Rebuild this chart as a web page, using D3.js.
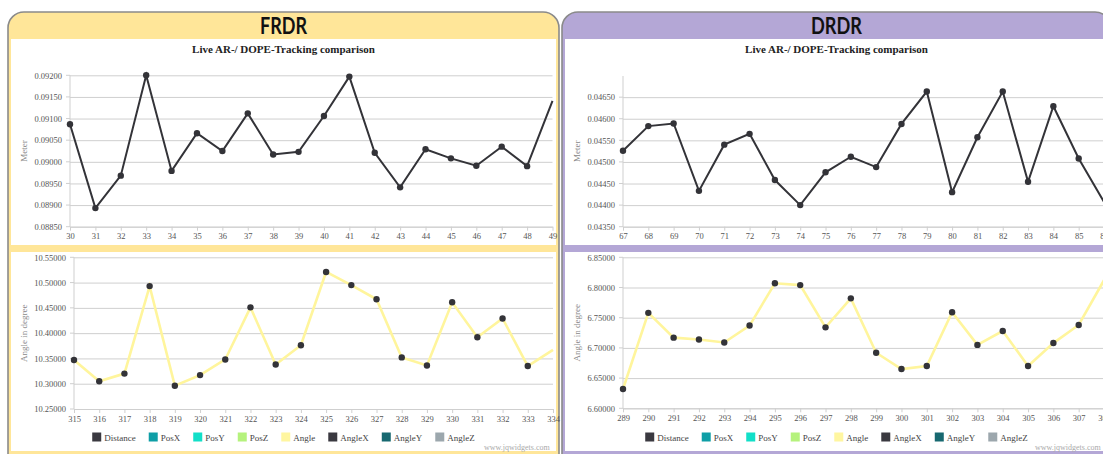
<!DOCTYPE html>
<html><head><meta charset="utf-8">
<script src="https://cdn.jsdelivr.net/npm/d3@7"></script>
<style>body{margin:0;background:#fff;overflow:hidden} svg{display:block}</style>
</head><body><svg id="c" width="1103" height="454"></svg>
<script>
// ---------- DATA ----------
const frdrDistanceCategories = [30,31,32,33,34,35,36,37,38,39,40,41,42,43,44,45,46,47,48,49];
const frdrDistanceValues = [0.09087,0.08893,0.08968,0.09200,0.08979,0.09066,0.09025,0.09112,0.09017,0.09023,0.09106,0.09197,0.09021,0.08941,0.09029,0.09008,0.08991,0.09035,0.08990,0.09141];
const frdrDistanceTicks = [0.0885,0.0890,0.0895,0.0900,0.0905,0.0910,0.0915,0.0920];

const frdrAngleCategories = [315,316,317,318,319,320,321,322,323,324,325,326,327,328,329,330,331,332,333,334];
const frdrAngleValues = [10.347,10.305,10.320,10.493,10.296,10.317,10.348,10.451,10.338,10.376,10.521,10.495,10.467,10.352,10.336,10.461,10.392,10.429,10.335,10.367];
const frdrAngleTicks = [10.25,10.30,10.35,10.40,10.45,10.50,10.55];

const drdrDistanceCategories = [67,68,69,70,71,72,73,74,75,76,77,78,79,80,81,82,83,84,85,86];
const drdrDistanceValues = [0.04526,0.04583,0.04589,0.04433,0.04540,0.04565,0.04458,0.04400,0.04476,0.04512,0.04488,0.04588,0.04663,0.04430,0.04557,0.04663,0.04454,0.04629,0.04508,0.04407];
const drdrDistanceTicks = [0.0435,0.0440,0.0445,0.0450,0.0455,0.0460,0.0465];

const drdrAngleCategories = [289,290,291,292,293,294,295,296,297,298,299,300,301,302,303,304,305,306,307,308];
const drdrAngleValues = [6.632,6.758,6.717,6.714,6.709,6.737,6.807,6.804,6.734,6.782,6.692,6.665,6.670,6.759,6.705,6.728,6.670,6.708,6.738,6.812];
const drdrAngleTicks = [6.60,6.65,6.70,6.75,6.80,6.85];

const legendNames = ["Distance","PosX","PosY","PosZ","Angle","AngleX","AngleY","AngleZ"];
const chartTitle = "Live AR-/ DOPE-Tracking comparison";

// ---------- STYLE ----------
const legendColors = ["#3a3940","#0e9ea6","#12dfc8","#b5f27d","#fff6a0","#3a3940","#176870","#9ca7ad"];
const serif = "'Liberation Serif','DejaVu Serif',serif";
const svg = d3.select("#c");
const fmt = d3.format(".5f");

function drawPanel(p){
  const g = svg.append("g");
  const r = 16, top = 12, bot = 460, x0 = p.x0, x1 = p.x0 + p.w;
  g.append("path")
    .attr("d", `M${x0},${bot} V${top+r} A${r},${r} 0 0 1 ${x0+r},${top} H${x1-r} A${r},${r} 0 0 1 ${x1},${top+r} V${bot} Z`)
    .attr("fill", p.color).attr("stroke", "#8a8a8a").attr("stroke-width", 1.6);
  g.append("rect").attr("x", x0+3).attr("y", 39).attr("width", p.w-6).attr("height", 412).attr("fill", "#fff");
  g.append("rect").attr("x", x0+3).attr("y", 245).attr("width", p.w-6).attr("height", 7).attr("fill", p.color);
  g.append("text").attr("x", x0+p.w/2).attr("y", 34).attr("text-anchor","middle")
    .attr("font-family","Lato,'Open Sans',sans-serif").attr("font-weight",700).attr("font-size",22)
    .attr("textLength", p.labelW).attr("lengthAdjust","spacingAndGlyphs")
    .attr("fill","#111").text(p.label);
  g.append("text").attr("x", x0+p.w/2).attr("y", 53).attr("text-anchor","middle")
    .attr("font-family",serif).attr("font-weight",700).attr("font-size",11).attr("fill","#222").text(chartTitle);

  p.charts.forEach(c => drawChart(g, c));

  // legend
  const lg = g.append("g").attr("font-family", serif).attr("font-size", 9).attr("fill", "#444");
  let xx = 0;
  const items = [];
  legendNames.forEach((n,i) => {
    const it = lg.append("g");
    it.append("rect").attr("x", xx).attr("y", 432.5).attr("width", 9).attr("height", 9).attr("fill", legendColors[i]);
    const t = it.append("text").attr("x", xx+12).attr("y", 440.5).text(n);
    xx += 12 + t.node().getComputedTextLength() + 13;
  });
  const total = xx - 13;
  lg.attr("transform", `translate(${x0 + p.w/2 - total/2},0)`);

  g.append("text").attr("x", p.wmX).attr("y", 450).attr("font-family", serif).attr("font-size", 8)
    .attr("fill", "#aaa").text("www.jqwidgets.com");
}

function drawChart(g, c){
  const x = d3.scalePoint().domain(c.cats).range([c.left, c.right]);
  const y = d3.scaleLinear().domain(c.domain).range([c.bottom, c.top]);
  const ch = g.append("g");
  // grid + y labels
  const ya = ch.append("g").attr("transform", `translate(${c.left},0)`)
    .call(d3.axisLeft(y).tickValues(c.ticks).tickFormat(fmt).tickSizeInner(-(c.right - c.left)).tickSizeOuter(0).tickPadding(8));
  ya.select(".domain").remove();
  ya.selectAll(".tick line").attr("stroke", "#cfcfcf");
  ya.selectAll("text").attr("font-family", serif).attr("font-size", 8.5).attr("fill", "#555");
  // small stubs left of axis
  ch.selectAll(null).data(c.ticks).join("line")
    .attr("x1", c.left-4).attr("x2", c.left).attr("y1", d => y(d)).attr("y2", d => y(d)).attr("stroke", "#cfcfcf");
  // y axis line
  ch.append("line").attr("x1", c.left).attr("x2", c.left).attr("y1", c.top).attr("y2", c.bottom).attr("stroke", "#cfcfcf");
  // x axis
  const xa = ch.append("g").attr("transform", `translate(0,${c.bottom})`)
    .call(d3.axisBottom(x).tickSizeInner(4).tickSizeOuter(0).tickPadding(2.5));
  xa.select(".domain").attr("stroke", "#cfcfcf");
  xa.selectAll(".tick line").attr("stroke", "#cfcfcf");
  xa.selectAll("text").attr("font-family", serif).attr("font-size", 8.5).attr("fill", "#555");
  // y label
  ch.append("text").attr("transform", `translate(${c.ylx},${(c.top+c.bottom)/2}) rotate(-90)`)
    .attr("text-anchor", "middle").attr("dy", "0.32em").attr("font-family", serif).attr("font-size", 9)
    .attr("fill", "#888").text(c.ylabel);
  // line
  const pts = c.cats.map((k,i) => [x(k), y(c.vals[i])]);
  ch.append("path").attr("d", d3.line()(pts)).attr("fill", "none")
    .attr("stroke", c.lineColor).attr("stroke-width", c.lineWidth).attr("stroke-linejoin", "miter");
  ch.selectAll(null).data(pts.slice(0, -1)).join("circle")
    .attr("cx", d => d[0]).attr("cy", d => d[1]).attr("r", 3.2).attr("fill", "#333338");
}

drawPanel({
  x0: 8, w: 551, color: "#ffe699", label: "FRDR", labelW: 47, wmX: 484,
  charts: [
    {cats: frdrDistanceCategories, vals: frdrDistanceValues, ticks: frdrDistanceTicks, domain: [0.0885, 0.0920],
     left: 70, right: 552.5, top: 75.3, bottom: 226.7, ylabel: "Meter", ylx: 24, lineColor: "#333338", lineWidth: 2},
    {cats: frdrAngleCategories, vals: frdrAngleValues, ticks: frdrAngleTicks, domain: [10.25, 10.55],
     left: 74, right: 553, top: 257.3, bottom: 409, ylabel: "Angle in degree", ylx: 24, lineColor: "#fff59c", lineWidth: 2.6}
  ]
});
drawPanel({
  x0: 562, w: 549, color: "#b4a7d6", label: "DRDR", labelW: 51, wmX: 1035,
  charts: [
    {cats: drdrDistanceCategories, vals: drdrDistanceValues, ticks: drdrDistanceTicks, domain: [0.0435, 0.04699],
     left: 623, right: 1104, top: 76, bottom: 226.7, ylabel: "Meter", ylx: 577, lineColor: "#333338", lineWidth: 2},
    {cats: drdrAngleCategories, vals: drdrAngleValues, ticks: drdrAngleTicks, domain: [6.60, 6.85],
     left: 623, right: 1104, top: 257.3, bottom: 408.3, ylabel: "Angle in degree", ylx: 577, lineColor: "#fff59c", lineWidth: 2.6}
  ]
});
</script></body></html>
